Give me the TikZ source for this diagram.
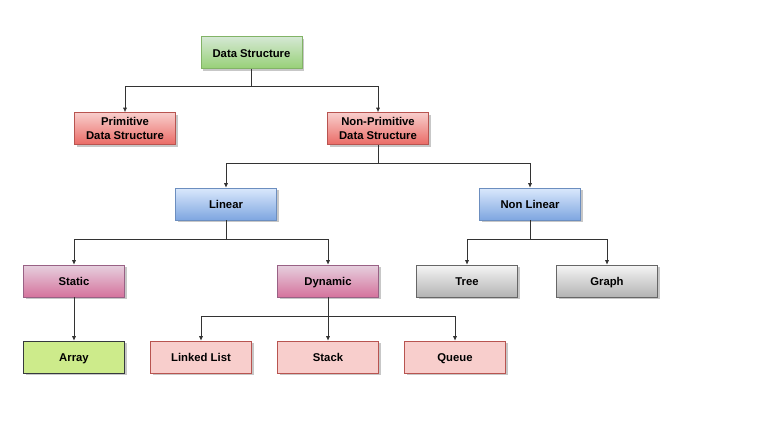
\documentclass[tikz,border=0pt]{standalone}
\usepackage{fontspec}
\setmainfont{Liberation Sans}
\usetikzlibrary{shadows,arrows.meta}
\definecolor{gtop}{HTML}{D5E8D4}\definecolor{gbot}{HTML}{97D077}\definecolor{gbd}{HTML}{82B366}
\definecolor{rtop}{HTML}{F8CECC}\definecolor{rbot}{HTML}{EA6B66}\definecolor{rbd}{HTML}{B85450}
\definecolor{btop}{HTML}{DAE8FC}\definecolor{bbot}{HTML}{7EA6E0}\definecolor{bbd}{HTML}{6C8EBF}
\definecolor{mtop}{HTML}{E6D0DE}\definecolor{mbot}{HTML}{D5739D}\definecolor{mbd}{HTML}{996185}
\definecolor{ytop}{HTML}{F5F5F5}\definecolor{ybot}{HTML}{B3B3B3}\definecolor{ybd}{HTML}{666666}
\definecolor{afill}{HTML}{CDEB8B}\definecolor{abd}{HTML}{36393D}
\definecolor{lfill}{HTML}{F8CECC}
\definecolor{edge}{HTML}{333333}
\begin{document}
\begin{tikzpicture}[x=1pt,y=-1pt,
  box/.style={rectangle,minimum width=101pt,minimum height=32pt,inner sep=1pt,
    font=\fontsize{11.3}{14}\selectfont\bfseries,line width=0.6pt,
    drop shadow={shadow xshift=2pt,shadow yshift=-2pt,fill=black,opacity=0.22}},
  one/.style={text height=10pt,text depth=0.6pt},
  gbox/.style={box,one,draw=gbd,top color=gtop,bottom color=gbot},
  rbox/.style={box,align=center,draw=rbd,top color=rtop,bottom color=rbot},
  bbox/.style={box,one,draw=bbd,top color=btop,bottom color=bbot},
  mbox/.style={box,one,draw=mbd,top color=mtop,bottom color=mbot},
  ybox/.style={box,one,draw=ybd,top color=ytop,bottom color=ybot},
  abox/.style={box,one,draw=abd,fill=afill},
  lbox/.style={box,one,draw=rbd,fill=lfill},
  conn/.style={draw=edge,line width=0.6pt,-{Latex[length=4.5pt,width=4pt]}}
]
\useasboundingbox (0,0) rectangle (762,431);
\node[gbox] (ds) at (251.5,52.5) {Data Structure};
\node[rbox] (prim) at (125,128.5) {Primitive\\Data Structure};
\node[rbox] (nprim) at (378,128.5) {Non-Primitive\\Data Structure};
\node[bbox] (lin) at (226,204) {Linear};
\node[bbox] (nlin) at (530,204) {Non Linear};
\node[mbox] (stat) at (74,281) {Static};
\node[mbox] (dyn) at (328,281) {Dynamic};
\node[ybox] (tree) at (467,281) {Tree};
\node[ybox] (graph) at (607,281) {Graph};
\node[abox] (arr) at (74,357) {Array};
\node[lbox] (ll) at (201,357) {Linked List};
\node[lbox] (stack) at (328,357) {Stack};
\node[lbox] (queue) at (455,357) {Queue};
\coordinate (b1) at (251.5,86);
\coordinate (b2) at (378,163);
\coordinate (b3) at (226,239);
\coordinate (b4) at (530,239);
\coordinate (b5) at (328,316);
\draw[conn] (ds.south) -- (b1) -| (prim.north);
\draw[conn] (ds.south) -- (b1) -| (nprim.north);
\draw[conn] (nprim.south) -- (b2) -| (lin.north);
\draw[conn] (nprim.south) -- (b2) -| (nlin.north);
\draw[conn] (lin.south) -- (b3) -| (stat.north);
\draw[conn] (lin.south) -- (b3) -| (dyn.north);
\draw[conn] (nlin.south) -- (b4) -| (tree.north);
\draw[conn] (nlin.south) -- (b4) -| (graph.north);
\draw[conn] (stat.south) -- (arr.north);
\draw[conn] (dyn.south) -- (b5) -| (ll.north);
\draw[conn] (dyn.south) -- (stack.north);
\draw[conn] (dyn.south) -- (b5) -| (queue.north);
\end{tikzpicture}
\end{document}
